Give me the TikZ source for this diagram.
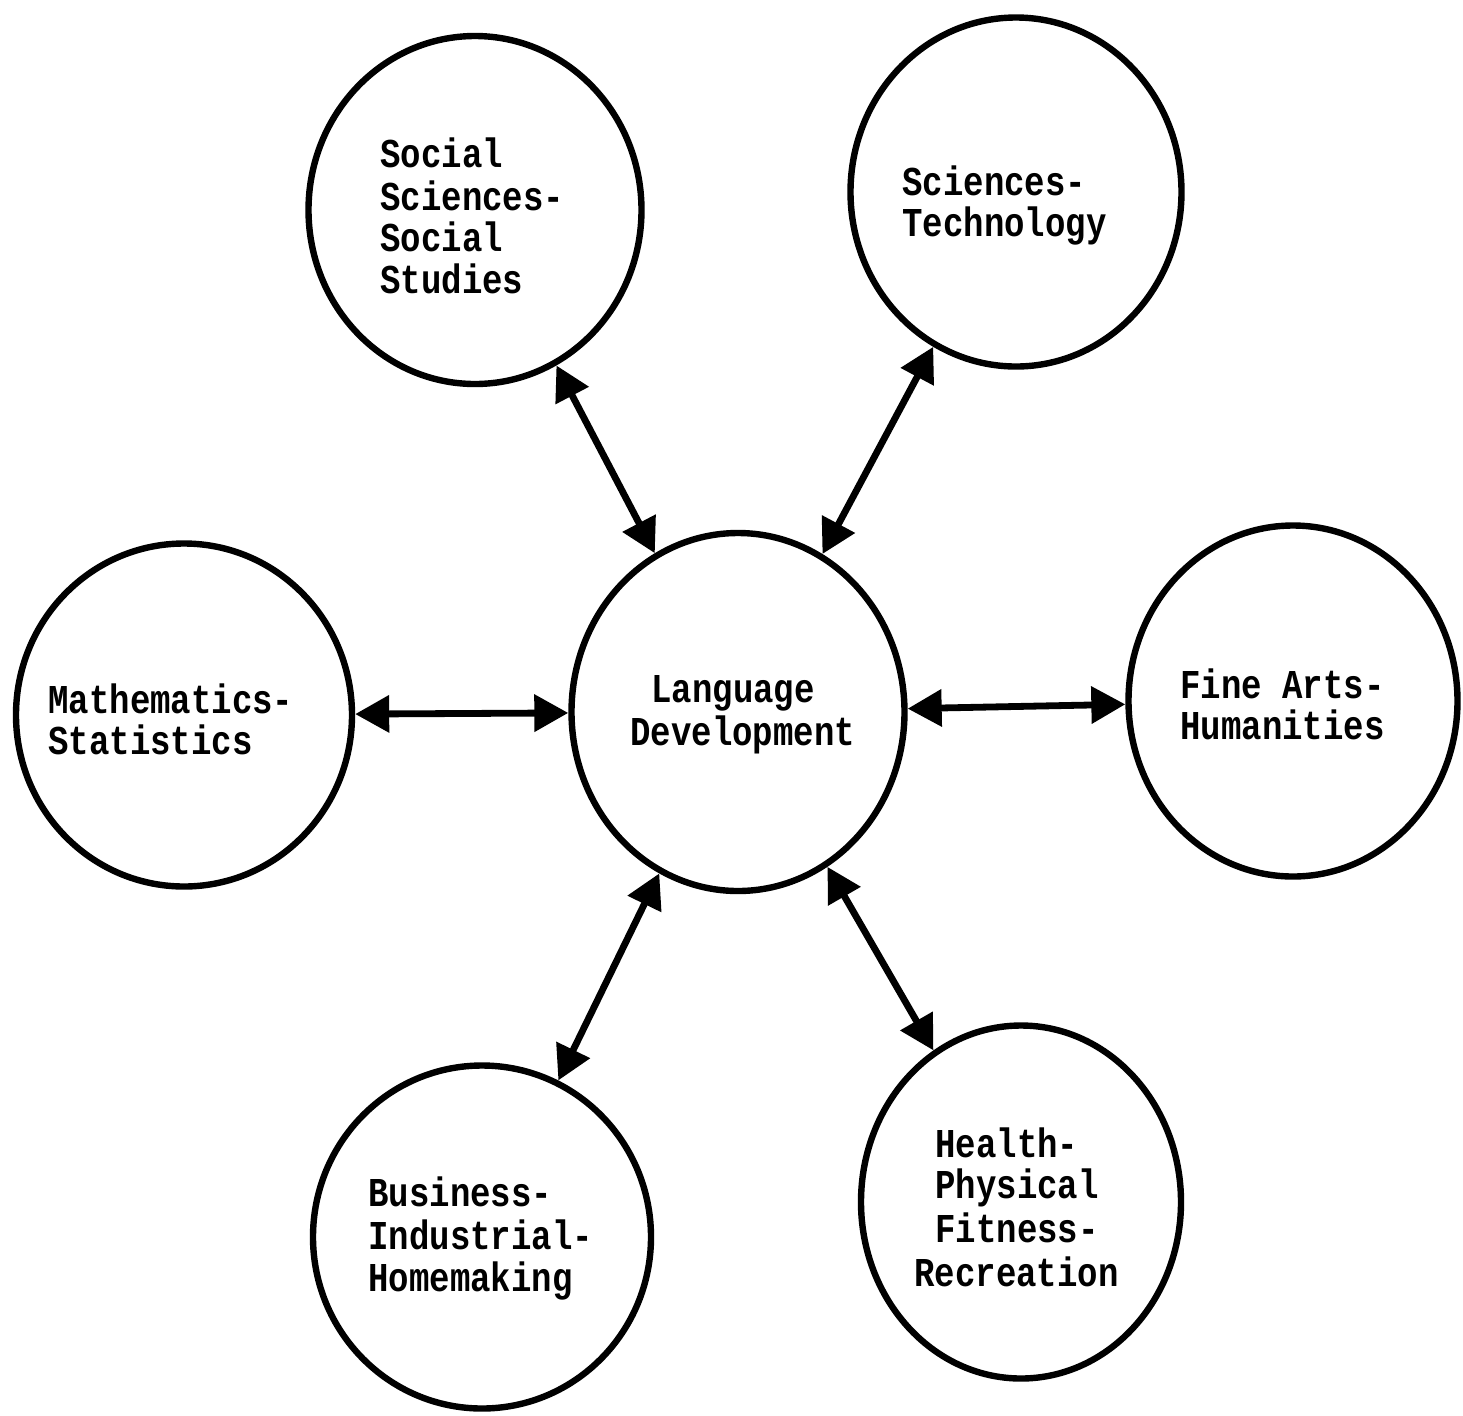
\documentclass[tikz,border=0pt]{standalone}
\usepackage{fontspec}
\newfontfamily\tw[FakeStretch=0.83]{Liberation Mono}
\usetikzlibrary{shapes.geometric,arrows.meta}

\begin{document}
\begin{tikzpicture}[x=0.5pt,y=-0.5pt,
  ring/.style={draw, ellipse, line width=3.2pt, inner sep=0pt},
  link/.style={line width=3.4pt,
    {Triangle[length=17pt,width=18pt]}-{Triangle[length=17pt,width=18pt]}},
  lbl/.style={anchor=base west, inner sep=0pt,
    font=\tw\bfseries\fontsize{20.5}{21}\selectfont}]
\useasboundingbox (0,0) rectangle (1463,1415);

% circles
\node[ring, minimum width=166.5pt, minimum height=179pt]   (lang) at (738,712)  {};
\node[ring, minimum width=166.5pt, minimum height=174pt]   (soc)  at (475,210)  {};
\node[ring, minimum width=165.5pt, minimum height=174.5pt] (sci)  at (1016,192) {};
\node[ring, minimum width=168pt,   minimum height=171.5pt] (math) at (184,715)  {};
\node[ring, minimum width=164.5pt, minimum height=175.5pt] (fine) at (1293,701) {};
\node[ring, minimum width=169pt,   minimum height=171.5pt] (bus)  at (482,1237) {};
\node[ring, minimum width=160pt,   minimum height=176.5pt] (hlth) at (1021,1202) {};

% labels
\node[lbl] (socA) at (380,167) {Social};
\node[lbl] (socB) at (380,210) {Sciences-};
\node[lbl] (socC) at (380,251) {Social};
\node[lbl] (socD) at (380,293) {Studies};

\node[lbl] (sciA) at (902,195) {Sciences-};
\node[lbl] (sciB) at (902,236) {Technology};

\node[lbl] (mathA) at (48,713) {Mathematics-};
\node[lbl] (mathB) at (48,754) {Statistics};

\node[lbl] (langA) at (651,702) {Language};
\node[lbl] (langB) at (630,745) {Development};

\node[lbl] (fineA) at (1180,698) {Fine Arts-};
\node[lbl] (fineB) at (1180,739) {Humanities};

\node[lbl] (busA) at (368,1206) {Business-};
\node[lbl] (busB) at (368,1249) {Industrial-};
\node[lbl] (busC) at (368,1291) {Homemaking};

\node[lbl] (hlthA) at (935,1157) {Health-};
\node[lbl] (hlthB) at (935,1198) {Physical};
\node[lbl] (hlthC) at (935,1242) {Fitness-};
\node[lbl] (hlthD) at (914,1286) {Recreation};

% two-way links to the centre
\draw[link] (soc)  -- (lang);
\draw[link] (sci)  -- (lang);
\draw[link] (math) -- (lang);
\draw[link] (lang) -- (fine);
\draw[link] (lang) -- (bus);
\draw[link] (lang) -- (hlth);
\end{tikzpicture}
\end{document}
